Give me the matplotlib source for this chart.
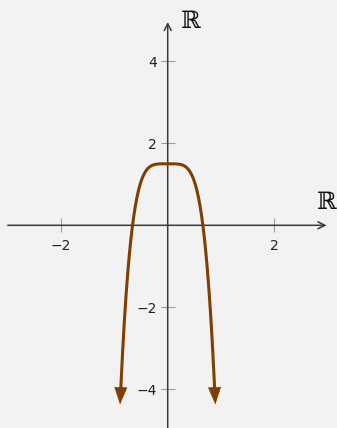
import numpy as np
import matplotlib
matplotlib.use("Agg")
import matplotlib.pyplot as plt

# Graph of f(x) = peak - coef * |x|**power on the window shown
peak = 1.5
coef = 9.74
power = 4.5
x_end = 0.88

x_ticks = [-2, 2]
y_ticks = [-4, -2, 2, 4]
x_axis_range = [-3.0, 2.98]
y_axis_range = [-5.0, 4.96]
x_view = [-3.146, 3.176]
y_view = [-4.944, 5.495]

bg = "#f2f2f2"
curve_color = "#7f3f00"
axis_color = "#3a3a3a"
tick_color = "#9a9a9a"

fig = plt.figure(figsize=(3.37, 4.28), dpi=100, facecolor=bg)
ax = fig.add_axes([0, 0, 1, 1], facecolor=bg)
ax.set_xlim(*x_view)
ax.set_ylim(*y_view)

# axes through the origin
for side in ("left", "bottom"):
    ax.spines[side].set_position("zero")
    ax.spines[side].set_visible(False)
for side in ("right", "top"):
    ax.spines[side].set_visible(False)

ax.set_xticks(x_ticks)
ax.set_yticks(y_ticks)
ax.tick_params(axis="both", direction="inout", length=10, width=0.8,
               color=tick_color, labelsize=10, labelcolor="#222222")
ax.tick_params(axis="x", pad=5)
ax.tick_params(axis="y", pad=3)

ax.annotate("", xy=(x_axis_range[1], 0), xytext=(x_axis_range[0], 0),
            arrowprops=dict(arrowstyle="->,head_length=0.5,head_width=0.25",
                            color=axis_color, lw=1.1, shrinkA=0, shrinkB=0,
                            mutation_scale=10))
ax.annotate("", xy=(0, y_axis_range[1]), xytext=(0, y_axis_range[0]),
            arrowprops=dict(arrowstyle="->,head_length=0.5,head_width=0.25",
                            color=axis_color, lw=1.1, shrinkA=0, shrinkB=0,
                            mutation_scale=10))

ax.text(2.98, 0.28, "ℝ", fontsize=17, family="DejaVu Serif",
        ha="center", va="bottom", color="#111111")
ax.text(0.24, 4.98, "ℝ", fontsize=17, family="DejaVu Serif",
        ha="left", va="center", color="#111111")

# the curve
xs = np.linspace(-x_end, x_end, 600)
ys = peak - coef * np.abs(xs) ** power
ax.plot(xs, ys, color=curve_color, lw=2.2, solid_capstyle="butt", zorder=3)

# arrowheads continuing the curve at both ends
head_px = 16
to_px = ax.transData
inv = to_px.inverted()
for i0, i1 in ((1, 0), (-2, -1)):
    p0 = to_px.transform((xs[i0], ys[i0]))
    p1 = to_px.transform((xs[i1], ys[i1]))
    d = (p1 - p0) / np.hypot(*(p1 - p0))
    tip = inv.transform(p1 + d * head_px)
    ax.annotate("", xy=tuple(tip), xytext=(xs[i1], ys[i1]),
                arrowprops=dict(arrowstyle="-|>,head_length=0.82,head_width=0.31",
                                facecolor=curve_color, edgecolor=curve_color,
                                lw=0.5, shrinkA=0, shrinkB=0,
                                mutation_scale=14), zorder=4)

fig.savefig("out.png", dpi=100, facecolor=bg)
